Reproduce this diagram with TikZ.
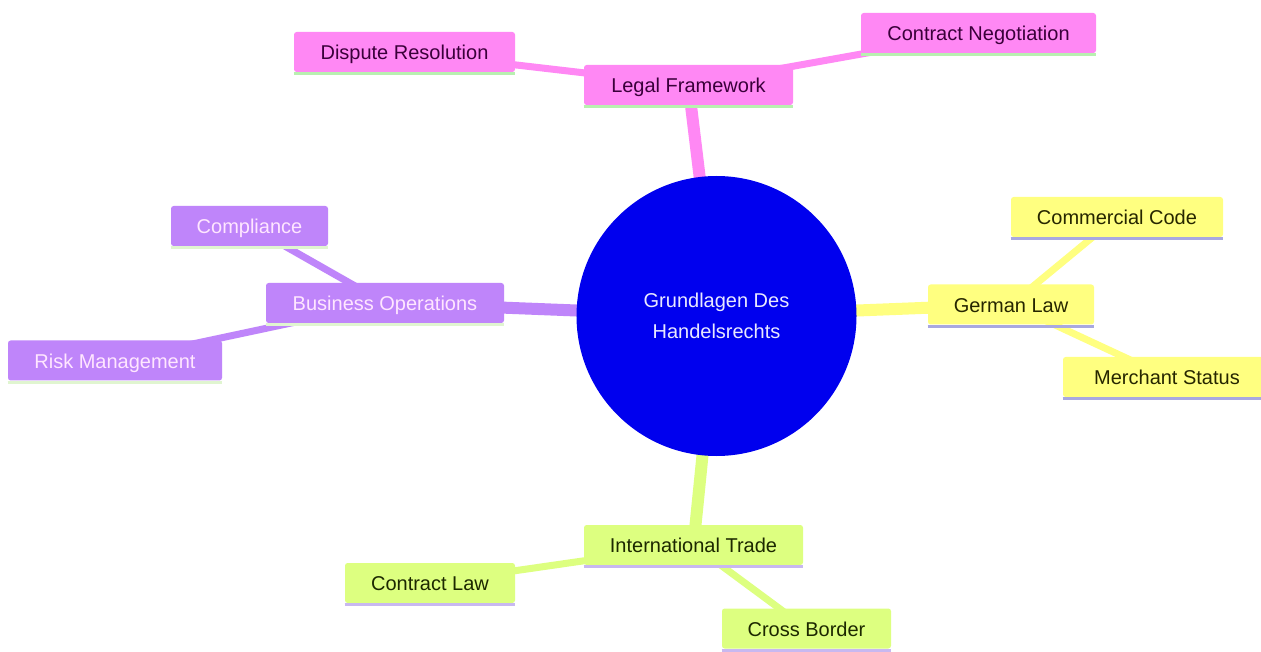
\documentclass[tikz,border=0pt]{standalone}
\usepackage{fontspec}
\setmainfont{Liberation Sans}
\pgfdeclarelayer{bgl}
\pgfdeclarelayer{edges}
\pgfsetlayers{bgl,edges,main}
\definecolor{rootF}{HTML}{0000EE}
\definecolor{rootT}{HTML}{E8E8FF}
\definecolor{pinkF}{HTML}{FF88F4}
\definecolor{pinkT}{HTML}{3A003A}
\definecolor{pinkU}{HTML}{B8F0B0}
\definecolor{purpF}{HTML}{BF85FA}
\definecolor{purpT}{HTML}{FFE6FF}
\definecolor{purpU}{HTML}{E0F5D0}
\definecolor{yellF}{HTML}{FFFF80}
\definecolor{yellT}{HTML}{262600}
\definecolor{yellU}{HTML}{A8A8E0}
\definecolor{grnF}{HTML}{DDFF80}
\definecolor{grnT}{HTML}{1C2800}
\definecolor{grnU}{HTML}{C8B8F0}
\begin{document}
\begin{tikzpicture}[x=0.75pt,y=-0.75pt,
  box/.style={rectangle, rounded corners=2pt, inner sep=0pt, minimum height=30pt,
    text height=12pt, text depth=0.4pt,
    font=\fontsize{15pt}{18pt}\selectfont, align=center},
  pinkbox/.style={box, fill=pinkF, text=pinkT},
  purpbox/.style={box, fill=purpF, text=purpT},
  yellbox/.style={box, fill=yellF, text=yellT},
  grnbox/.style={box, fill=grnF, text=grnT},
  rootnode/.style={circle, fill=rootF, text=rootT, inner sep=0pt, minimum size=210pt,
    font=\fontsize{15pt}{23.25pt}\selectfont, align=center},
  mainedge/.style={line width=9pt},
  subedge/.style={line width=5.25pt},
  uline/.style={line width=2.25pt}
]
\useasboundingbox (0,0) rectangle (1261,652);
\begin{pgfonlayer}{bgl}
\fill[white] (0,0) rectangle (1261,652);
\end{pgfonlayer}

% root
\node[rootnode] (root) at (716.5,316) {Grundlagen Des\\ Handelsrechts};

% Legal Framework branch
\node[pinkbox, minimum width=156.75pt] (lf) at (688.5,85) {Legal Framework};
\node[pinkbox, minimum width=165.75pt] (dr) at (404.5,52) {Dispute Resolution};
\node[pinkbox, minimum width=176.25pt] (cn) at (978.5,33) {Contract Negotiation};

% Business Operations branch
\node[purpbox, minimum width=178.5pt] (bo) at (385,303) {Business Operations};
\node[purpbox, minimum width=117.75pt] (co) at (249.5,226) {Compliance};
\node[purpbox, minimum width=160.5pt] (rm) at (115,360.5) {Risk Management};

% German Law branch
\node[yellbox, minimum width=124.5pt] (gl) at (1011,304.5) {German Law};
\node[yellbox, minimum width=159pt] (cc) at (1117,217) {Commercial Code};
\node[yellbox, minimum width=156pt] (ms) at (1167,377) {Merchant Status};

% International Trade branch
\node[grnbox, minimum width=164.25pt] (it) at (693.5,545) {International Trade};
\node[grnbox, minimum width=127.5pt] (cl) at (430,583) {Contract Law};
\node[grnbox, minimum width=126.75pt] (cb) at (806.5,628.5) {Cross Border};

% underlines
\foreach \n in {lf,dr,cn}
  \draw[uline, pinkU] ([yshift=-1.1pt]\n.south west) -- ([yshift=-1.1pt]\n.south east);
\foreach \n in {bo,co,rm}
  \draw[uline, purpU] ([yshift=-1.1pt]\n.south west) -- ([yshift=-1.1pt]\n.south east);
\foreach \n in {gl,cc,ms}
  \draw[uline, yellU] ([yshift=-1.1pt]\n.south west) -- ([yshift=-1.1pt]\n.south east);
\foreach \n in {it,cl,cb}
  \draw[uline, grnU] ([yshift=-1.1pt]\n.south west) -- ([yshift=-1.1pt]\n.south east);

% connectors
\begin{pgfonlayer}{edges}
\draw[mainedge, pinkF] (root.center) -- (lf.center);
\draw[subedge, pinkF] (lf.center) -- (dr.center);
\draw[subedge, pinkF] (lf.center) -- (cn.center);
\draw[mainedge, purpF] (root.center) -- (bo.center);
\draw[subedge, purpF] (bo.center) -- (co.center);
\draw[subedge, purpF] (bo.center) -- (rm.center);
\draw[mainedge, yellF] (root.center) -- (gl.center);
\draw[subedge, yellF] (gl.center) -- (cc.center);
\draw[subedge, yellF] (gl.center) -- (ms.center);
\draw[mainedge, grnF] (root.center) -- (it.center);
\draw[subedge, grnF] (it.center) -- (cl.center);
\draw[subedge, grnF] (it.center) -- (cb.center);
\end{pgfonlayer}
\end{tikzpicture}
\end{document}
